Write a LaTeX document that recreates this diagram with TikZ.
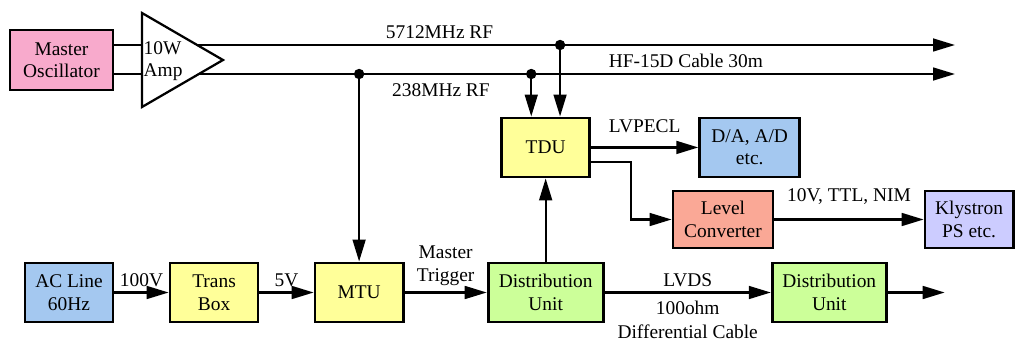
\documentclass[tikz,border=0pt]{standalone}
\usepackage{fontspec}
\setmainfont{Liberation Serif}
\usepackage{xcolor}
\usetikzlibrary{arrows.meta, positioning}

\definecolor{oscpink}{RGB}{248,170,204}
\definecolor{boxyellow}{RGB}{255,255,153}
\definecolor{boxblue}{RGB}{164,200,240}
\definecolor{boxsalmon}{RGB}{250,168,150}
\definecolor{boxlilac}{RGB}{204,204,255}
\definecolor{boxgreen}{RGB}{204,255,153}

\begin{document}
\begin{tikzpicture}[
        x=0.025cm, y=-0.025cm,
        font=\rmfamily\fontsize{13.8}{16}\selectfont,
        block/.style={
            draw,
            line width=2pt,
            align=center,
            minimum width=2.2cm,
            minimum height=1.475cm,
            inner sep=2pt
        },
        wire/.style={line width=1.6pt},
        arrow/.style={-{Triangle[length=5.5mm, width=3.2mm]}, line width=1.6pt},
        tap/.style={circle, fill, inner sep=0pt, minimum size=2.6mm}
    ]
        \useasboundingbox (0,0) rectangle (1016,341);

        % source and amplifier
        \node[block, fill=oscpink, minimum width=2.575cm, minimum height=1.5cm] (osc) at (61.5,60) {Master\\Oscillator};
        \coordinate (amptop) at (142,13);
        \coordinate (ampbot) at (142,107);
        \coordinate (amptip) at (223,60);
        \draw[wire] (amptop) -- (amptip) -- (ampbot) -- cycle;
        \node[align=left, anchor=west, inner sep=1pt] (amplbl) at (142,61) {10W\\Amp};
        \coordinate (ampinu) at (142,45);
        \coordinate (ampinl) at (142,74);
        \coordinate (ampoutu) at (197,45);
        \coordinate (ampoutl) at (199,74);
        \coordinate (rfu) at (955,45);
        \coordinate (rfl) at (955,74);

        % bottom row
        \node[block, fill=boxblue] (ac) at (69,292.5) {AC Line\\60Hz};
        \node[block, fill=boxyellow, right=1.355cm of ac] (trans) {Trans\\Box};
        \node[block, fill=boxyellow, right=1.355cm of trans] (mtu) {MTU};
        \node[block, fill=boxgreen, minimum width=2.875cm, right=2.055cm of mtu] (du1) {Distribution\\Unit};
        \node[block, fill=boxgreen, minimum width=2.85cm, right=4.155cm of du1] (du2) {Distribution\\Unit};
        \coordinate (duout) at ([xshift=1.425cm]du2.east);

        % timing distribution
        \node[block, fill=boxyellow, above=2.08cm of du1] (tdu) {TDU};
        \node[block, fill=boxblue, minimum width=2.5cm, right=2.68cm of tdu] (da) {D/A, A/D\\etc.};
        \node[block, fill=boxsalmon, minimum width=2.5cm, minimum height=1.425cm] (lc) at (723,219.5) {Level\\Converter};
        \node[block, fill=boxlilac, minimum height=1.425cm, right=3.73cm of lc] (klys) {Klystron\\PS etc.};

        % pick-off points
        \coordinate (tdul) at ([xshift=-3.6mm]tdu.north);
        \coordinate (tduh) at ([xshift=3.6mm]tdu.north);
        \node[tap] (tapmtu) at (mtu.north |- ampinl) {};
        \node[tap] (taplo) at (tdul |- ampinl) {};
        \node[tap] (taphi) at (tduh |- ampinu) {};

        \draw[wire] (osc.east |- ampinu) -- (ampinu);
        \draw[wire] (osc.east |- ampinl) -- (ampinl);
        \draw[arrow] (ampoutu) -- node[above, pos=0.32] (rfhi) {5712MHz RF} (rfu);
        \draw[arrow] (ampoutl) -- node[below=3pt, pos=0.32] (rflo) {238MHz RF}
            node[above, pos=0.644] (cable) {HF-15D Cable 30m} (rfl);
        \draw[arrow] (tapmtu.center) -- (mtu.north);
        \draw[arrow] (taplo.center) -- (tdul);
        \draw[arrow] (taphi.center) -- (tduh);

        \draw[arrow] (ac) -- node[above] (v100) {100V} (trans);
        \draw[arrow] (trans) -- node[above] (v5) {5V} (mtu);
        \draw[arrow] (mtu) -- node[above, align=center, yshift=1pt] (trig) {Master\\Trigger} (du1);
        \draw[arrow] (du1) -- node[above] (lvds) {LVDS}
            node[below, align=center, yshift=-2pt] (cablelbl) {100ohm\\[1.2pt]Differential Cable} (du2);
        \draw[arrow] (du2) -- (duout);
        \draw[arrow] (du1) -- (tdu);
        \draw[arrow] (tdu.east) -- node[above=6.5pt] (lvpecl) {LVPECL} (da.west);
        \draw[arrow] ([yshift=-3.6mm]tdu.east) -- ++(1cm,0) |- (lc.west);
        \draw[arrow] (lc) -- node[above=6.5pt] (ttl) {10V, TTL, NIM} (klys);
    \end{tikzpicture}
\end{document}
